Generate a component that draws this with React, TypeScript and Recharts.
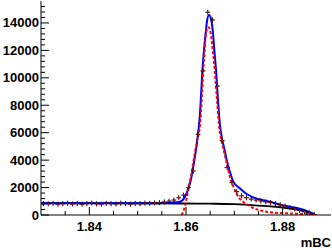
import { ComposedChart, Line, Scatter, ErrorBar, XAxis, YAxis } from 'recharts';

// histogram: bin centres (GeV) and entries per bin
const binCenters = [
    1.8305, 1.8315, 1.8325, 1.8335, 1.8345, 1.8355, 1.8365, 1.8375, 1.8385, 1.8395,
    1.8405, 1.8415, 1.8425, 1.8435, 1.8445, 1.8455, 1.8465, 1.8475, 1.8485, 1.8495,
    1.8505, 1.8515, 1.8525, 1.8535, 1.8545, 1.8555, 1.8565, 1.8575, 1.8585, 1.8595,
    1.8605, 1.8615, 1.8625, 1.8635, 1.8645, 1.8655, 1.8665, 1.8675, 1.8685, 1.8695,
    1.8705, 1.8715, 1.8725, 1.8735, 1.8745, 1.8755, 1.8765, 1.8775, 1.8785, 1.8795,
    1.8805, 1.8815, 1.8825, 1.8835, 1.8845, 1.8855, 1.8865,
];
const counts = [
    830, 810, 850, 790, 820, 860, 800, 840, 780, 830,
    870, 810, 790, 850, 820, 800, 860, 830, 790, 840,
    820, 870, 850, 880, 900, 950, 1010, 1090, 1260, 1450,
    1990, 3210, 5880, 10500, 14780, 14220, 9400, 5420, 3460, 2360,
    1700, 1400, 1260, 1160, 1090, 1020, 960, 900, 820, 740,
    640, 530, 430, 330, 240, 150, 40,
];
const binHalfWidth = 0.0005;

// background (black)
const bgMass = [1.83, 1.84, 1.85, 1.86, 1.865, 1.87, 1.875, 1.878, 1.88, 1.882, 1.884, 1.885, 1.886, 1.8865];
const bgLevel = [860, 860, 855, 840, 825, 790, 690, 610, 540, 440, 320, 250, 140, 0];

// total fit (blue)
const fitMass = [
    1.83, 1.84, 1.85, 1.855, 1.857, 1.8588, 1.8598, 1.8605, 1.861, 1.86139,
    1.8618, 1.86221, 1.86248, 1.86273, 1.863, 1.86337, 1.86372, 1.86408, 1.86435, 1.86476,
    1.86523, 1.86559, 1.86586, 1.86621, 1.86662, 1.86703, 1.86745, 1.86807, 1.86842, 1.8691,
    1.86979, 1.87117, 1.87256, 1.87392, 1.87599, 1.87806, 1.88013, 1.8829, 1.88497, 1.8867,
];
const fitLevel = [
    860, 860, 860, 870, 900, 970, 1330, 1950, 2550, 3280,
    4155, 5100, 5900, 6700, 8020, 10420, 12030, 13270, 14140, 14580,
    14215, 13245, 12030, 10570, 8380, 6560, 5590, 4610, 4010, 3130,
    2430, 1930, 1530, 1290, 1070, 900, 700, 510, 290, 0,
];

// signal (red dashed)
const sigMass = [
    1.8591, 1.85948, 1.85979, 1.86014, 1.86062, 1.86118, 1.86176, 1.86232, 1.8629, 1.86325,
    1.86358, 1.86387, 1.86414, 1.86462, 1.86511, 1.86553, 1.86594, 1.86641, 1.86683, 1.86772,
    1.86842, 1.8691, 1.86979, 1.87049, 1.87117, 1.87186, 1.87283, 1.87392, 1.87531, 1.87738,
    1.88083, 1.88497, 1.8867,
];
const sigLevel = [
    0, 290, 660, 1220, 2110, 3130, 4370, 5470, 6560, 8380,
    10570, 12030, 13245, 13680, 13245, 12030, 10570, 8380, 6560, 4860,
    3790, 2770, 2080, 1530, 1170, 950, 730, 510, 340, 200,
    125, 50, 0,
];

const xTicks = [1.835, 1.84, 1.845, 1.85, 1.855, 1.86, 1.865, 1.87, 1.875, 1.88, 1.885];
const xLabels = [1.84, 1.86, 1.88];
const yTicks = [
    0, 400, 800, 1200, 1600, 2000, 2400, 2800, 3200, 3600, 4000, 4400, 4800, 5200,
    5600, 6000, 6400, 6800, 7200, 7600, 8000, 8400, 8800, 9200, 9600, 10000, 10400,
    10800, 11200, 11600, 12000, 12400, 12800, 13200, 13600, 14000, 14400, 14800, 15200,
];
const yLabels = [0, 2000, 4000, 6000, 8000, 10000, 12000, 14000];

const pts = (xs: number[], ys: number[]) => xs.map((x, i) => ({ x, y: ys[i] }));
const histData = binCenters.map((x, i) => ({ x, y: counts[i], ex: binHalfWidth }));

const font = { fontFamily: 'Liberation Sans, Arial, sans-serif', fontWeight: 'bold', fontSize: 13 };

const isXMajor = (v: number) => xLabels.some((l) => Math.abs(l - v) < 1e-6);
const isYMajor = (v: number) => yLabels.includes(v);

const XTick = (side: 'bottom' | 'top') => (props: any) => {
    const { x, y, payload } = props;
    const major = isXMajor(payload.value);
    const len = major ? 8 : 4;
    const dir = side === 'bottom' ? -1 : 1;
    return (
        <g>
            <line x1={x} y1={y} x2={x} y2={y + dir * len} stroke="#000" />
            {side === 'bottom' && major && (
                <text x={x} y={y + 16} textAnchor="middle" fill="#000" {...font}>
                    {payload.value.toFixed(2)}
                </text>
            )}
        </g>
    );
};

const YTick = (side: 'left' | 'right') => (props: any) => {
    const { x, y, payload } = props;
    const major = isYMajor(payload.value);
    const len = major ? 8 : 4;
    const dir = side === 'left' ? 1 : -1;
    return (
        <g>
            <line x1={x} y1={y} x2={x + dir * len} y2={y} stroke="#000" />
            {side === 'left' && major && (
                <text x={x - 2} y={y + 4.5} textAnchor="end" fill="#000" {...font}>
                    {payload.value}
                </text>
            )}
        </g>
    );
};

const marker = (props: any) => {
    const { cx, cy } = props;
    return (
        <g>
            <line x1={cx} y1={cy - 2.5} x2={cx} y2={cy + 2.5} stroke="#000" />
            <rect x={cx - 0.75} y={cy - 0.75} width={1.5} height={1.5} fill="#f00" />
        </g>
    );
};

const xDomain = [1.83, 1.89];
const yDomain = [0, 15600];

const App = () => (
    <div style={{ position: 'absolute', left: 0, top: 0, width: 332, height: 250, background: '#fff' }}>
        <ComposedChart width={332} height={250} margin={{ top: 1, right: 1, left: 0, bottom: 0 }}>
            <XAxis xAxisId="b" dataKey="x" type="number" domain={xDomain} allowDataOverflow
                ticks={xTicks} interval={0} tickSize={0} tickMargin={0} height={35}
                axisLine={{ stroke: '#000' }} tickLine={false} tick={XTick('bottom')} />
            <XAxis xAxisId="t" orientation="top" dataKey="x" type="number" domain={xDomain} allowDataOverflow
                ticks={xTicks} interval={0} tickSize={0} tickMargin={0} height={0}
                axisLine={{ stroke: '#000' }} tickLine={false} tick={XTick('top')} />
            <YAxis yAxisId="l" type="number" domain={yDomain} allowDataOverflow
                ticks={yTicks} interval={0} tickSize={0} tickMargin={0} width={41}
                axisLine={{ stroke: '#000' }} tickLine={false} tick={YTick('left')} />
            <YAxis yAxisId="r" orientation="right" type="number" domain={yDomain} allowDataOverflow
                ticks={yTicks} interval={0} tickSize={0} tickMargin={0} width={0}
                axisLine={{ stroke: '#000' }} tickLine={false} tick={YTick('right')} />
            <Line xAxisId="b" yAxisId="l" data={pts(bgMass, bgLevel)} dataKey="y" type="monotone"
                stroke="#000" strokeWidth={1.8} dot={false} isAnimationActive={false} />
            <Line xAxisId="b" yAxisId="l" data={pts(fitMass, fitLevel)} dataKey="y" type="monotone"
                stroke="#0000ff" strokeWidth={2} dot={false} isAnimationActive={false} />
            <Line xAxisId="b" yAxisId="l" data={pts(sigMass, sigLevel)} dataKey="y" type="monotone"
                stroke="#ff0000" strokeWidth={2} strokeDasharray="3 2" dot={false} isAnimationActive={false} />
            <Scatter xAxisId="b" yAxisId="l" data={histData} dataKey="y" shape={marker} isAnimationActive={false}>
                <ErrorBar dataKey="ex" direction="x" width={0} stroke="#000" strokeWidth={1} />
            </Scatter>
        </ComposedChart>
        <div style={{ position: 'absolute', right: 1, top: 236, ...font, lineHeight: '13px' }}>mBC</div>
    </div>
);

export default App;
